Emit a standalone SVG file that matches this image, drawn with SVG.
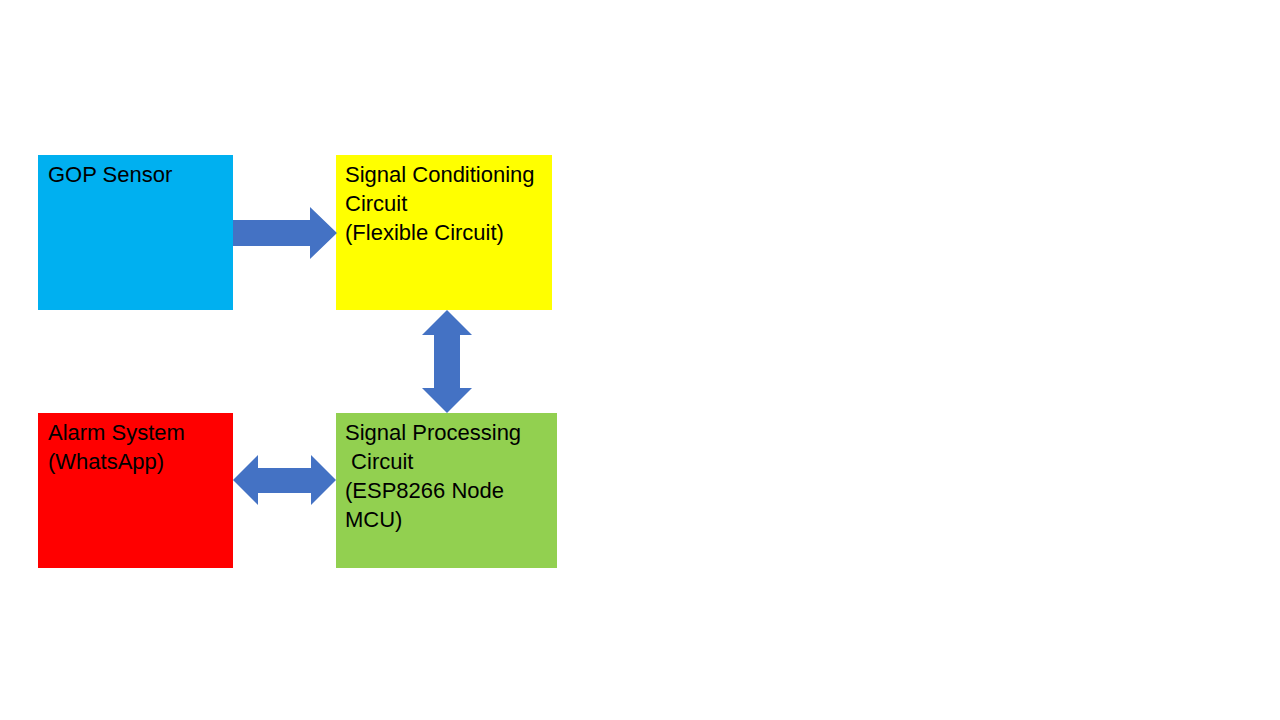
<svg xmlns="http://www.w3.org/2000/svg" width="1280" height="720" viewBox="0 0 1280 720">
<style>
text{font-family:"Liberation Sans",Arial,sans-serif;font-size:22px;fill:#000}
.arrow{fill:#4472C4}
</style>
<rect width="1280" height="720" fill="#fff"/>
<g id="gop">
<rect x="38" y="155" width="195" height="155" fill="#00B0F0"/>
<text x="48" y="182">GOP Sensor</text>
</g>
<g id="signal-conditioning">
<rect x="336" y="155" width="216" height="155" fill="#FFFF00"/>
<text x="345" y="182">Signal Conditioning</text>
<text x="345" y="211">Circuit</text>
<text x="345" y="240">(Flexible Circuit)</text>
</g>
<g id="alarm">
<rect x="38" y="413" width="195" height="155" fill="#FF0000"/>
<text x="48" y="440">Alarm System</text>
<text x="48" y="469">(WhatsApp)</text>
</g>
<g id="signal-processing">
<rect x="336" y="413" width="221" height="155" fill="#92D050"/>
<text x="345" y="440">Signal Processing</text>
<text x="345" y="469" xml:space="preserve"> Circuit</text>
<text x="345" y="498">(ESP8266 Node</text>
<text x="345" y="527">MCU)</text>
</g>
<g id="connectors">
<polygon class="arrow" points="233,220 310,220 310,207 337,233 310,259 310,246 233,246"/>
<polygon class="arrow" points="447,310 472,335 460,335 460,388 472,388 447,413 422,388 434,388 434,335 422,335"/>
<polygon class="arrow" points="233,480 258,455 258,468 311,468 311,455 336,480 311,505 311,493 258,493 258,505"/>
</g>
</svg>
